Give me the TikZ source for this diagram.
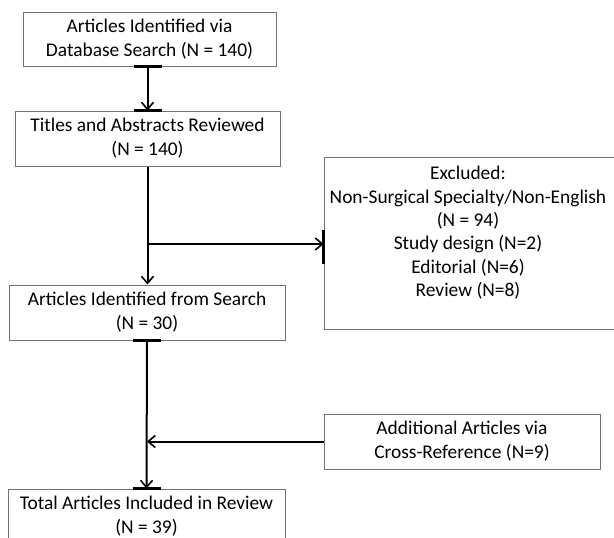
\documentclass[tikz,border=0pt]{standalone}
\usepackage{fontspec}
\setmainfont{Carlito}
\usetikzlibrary{arrows.meta}
\begin{document}
\begin{tikzpicture}[x=1pt,y=-1pt,
  box/.style={draw=black!55, line width=1pt, align=center, inner sep=0pt,
    font=\fontsize{19.4}{24}\selectfont},
  conn/.style={line width=2pt, -{Straight Barb[length=7pt,width=12pt,line width=1.6pt]}},
  tick/.style={line width=2.4pt, black}]
\useasboundingbox (0,0) rectangle (614,538);
\fill[white] (0,0) rectangle (614,538);
\node[box, minimum width=253pt, minimum height=54pt] (a) at (149.5,39) {Articles Identified via\\Database Search (N = 140)};
\node[box, minimum width=265pt, minimum height=55pt] (b) at (147.5,138.5) {Titles and Abstracts Reviewed\\(N = 140)};
\node[box, minimum width=306pt, minimum height=172pt] (e) at (477,243) {};
\node[align=center, inner sep=0pt, font=\fontsize{19.4}{23.4}\selectfont, anchor=north] (et) at (468,166) {Excluded:\\Non-Surgical Specialty/Non-English\\(N = 94)\\Study design (N=2)\\Editorial (N=6)\\Review (N=8)};
\node[box, minimum width=276pt, minimum height=55pt] (c) at (147,312.5) {Articles Identified from Search\\(N = 30)};
\node[box, minimum width=276pt, minimum height=55pt] (x) at (462,441.5) {Additional Articles via\\Cross-Reference (N=9)};
\node[box, minimum width=277pt, minimum height=55pt] (d) at (146.5,516.5) {Total Articles Included in Review\\(N = 39)};
\coordinate (j1) at (147.5,244);
\draw[conn] (a.south -| b.north) -- (b.north);
\draw[conn] (b.south) -- (c.north -| b.south);
\draw[conn] (j1) -- (j1 -| e.west);
\draw[conn] (c.south) -- (d.north);
\draw[conn] (x.west) -- (x.west -| c.south);
\draw[tick] ([xshift=-14pt]a.south -| b.north) -- ([xshift=14pt]a.south -| b.north);
\draw[tick] ([xshift=-14pt]b.north) -- ([xshift=14pt]b.north);
\draw[tick] ([yshift=-20pt]j1 -| e.west) -- ([yshift=14pt]j1 -| e.west);
\draw[tick] ([xshift=-14pt]c.south) -- ([xshift=14pt]c.south);
\draw[tick] ([xshift=-14pt]d.north) -- ([xshift=14pt]d.north);
\end{tikzpicture}
\end{document}
